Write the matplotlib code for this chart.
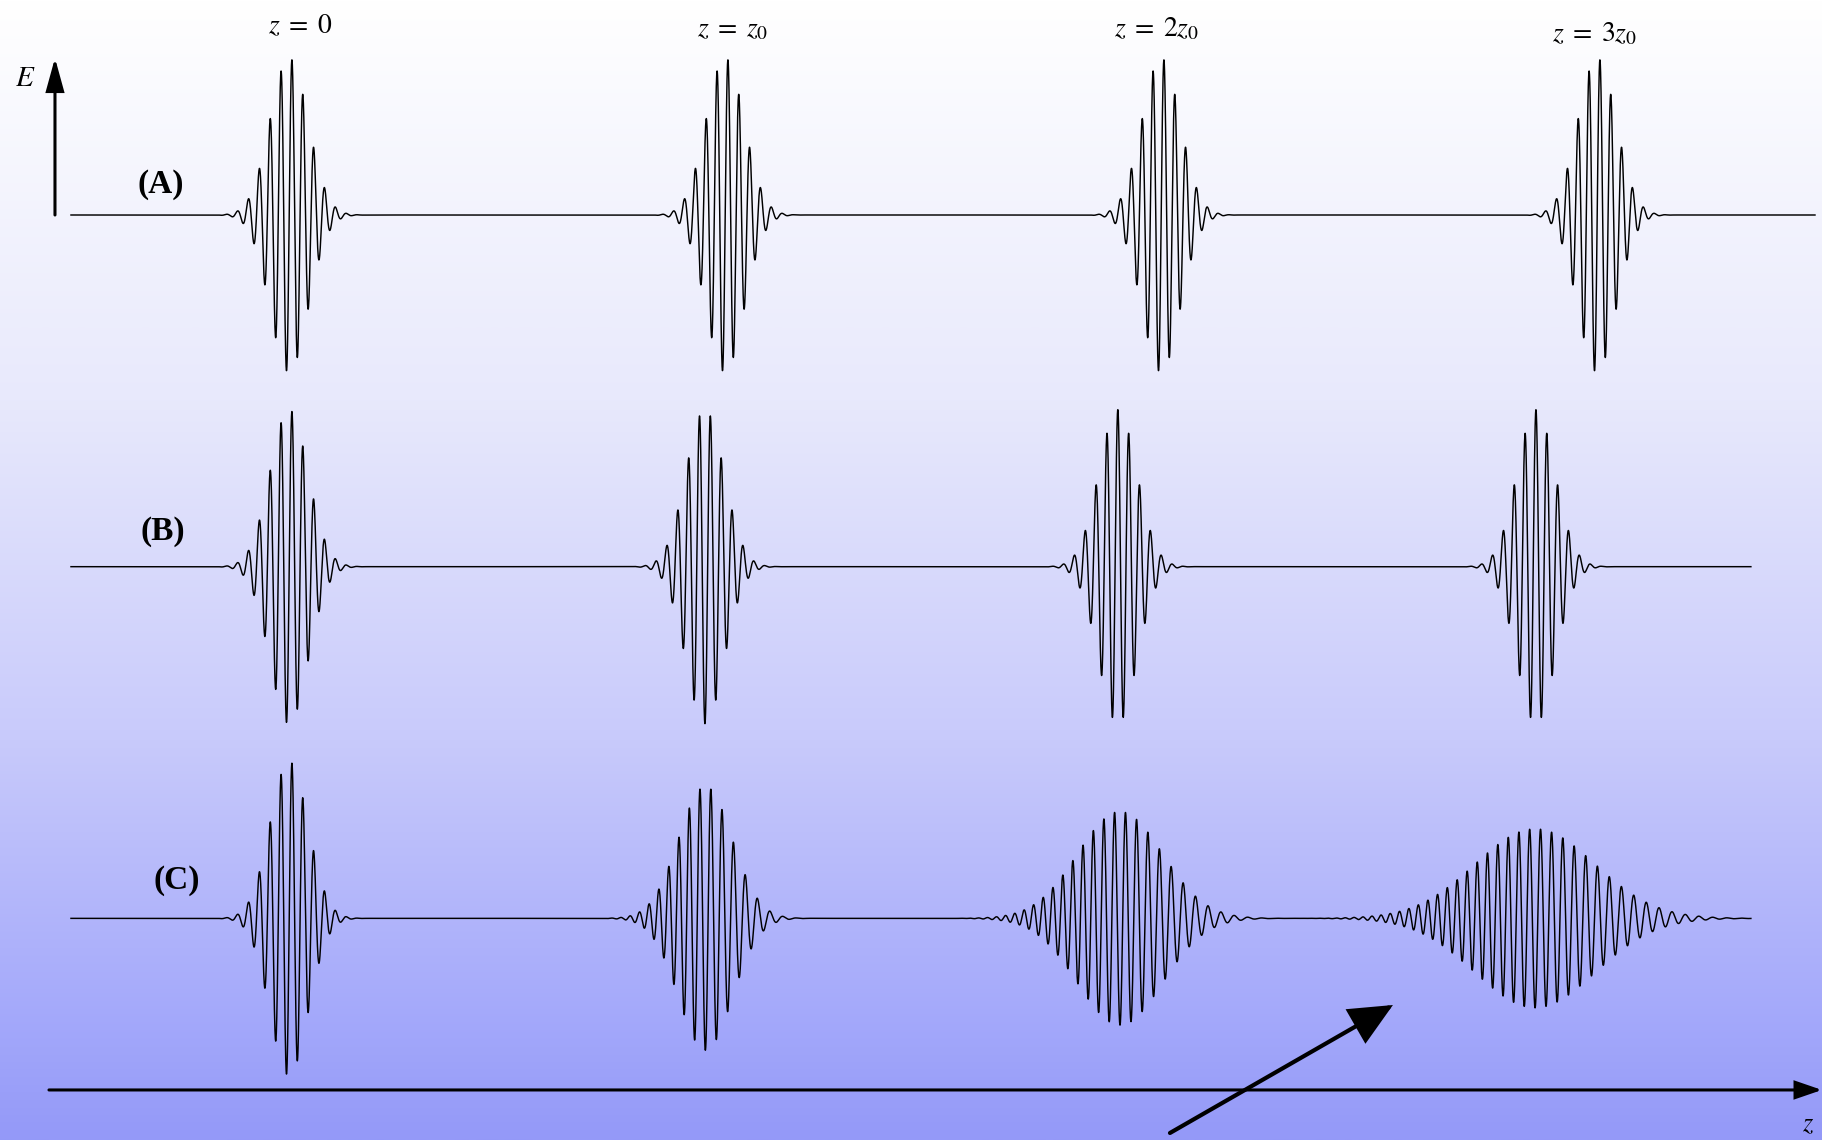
import matplotlib
matplotlib.use('Agg')
import numpy as np
import matplotlib.pyplot as plt
from matplotlib.patches import FancyArrowPatch
from matplotlib.colors import LinearSegmentedColormap

plt.rcParams['mathtext.fontset'] = 'stix'
plt.rcParams['font.family'] = ['Liberation Serif', 'DejaVu Serif']

# ------------------------------------------------------------
# Wave packets: positions in units of z0, amplitude 1 = E max
# ------------------------------------------------------------
ROW_NAMES   = ['(A)', '(B)', '(C)']
ROW_Y       = [0.0, -2.24, -4.48]          # baseline of each row
ROW_END     = [3.50, 3.353, 3.353]         # right end of each baseline
ROW_START   = -0.50
NAME_X      = [-0.2936, -0.289, -0.257]
NAME_Y      = [0.197, -2.013, -4.242]

Z_LABELS    = [r'$z\;=\;0$', r'$z\;=\;z_0$', r'$z\;=\;2z_0$', r'$z\;=\;3z_0$']
Z_LABEL_X   = [0.025, 1.018, 1.989, 2.995]
Z_LABEL_Y   = [1.159, 1.140, 1.140, 1.103]

# (A) no dispersion, (B) group delay, (C) group delay + spreading
CENTERS = [
    [0.0, 1.000, 2.000, 3.000],
    [0.0, 0.954, 1.901, 2.860],
    [0.0, 0.955, 1.906, 2.858],
]
AMPS = [
    [1.0, 1.0, 1.0, 1.0],
    [1.0, 1.0, 1.0, 1.0],
    [1.0, 0.84, 0.68, 0.57],
]
WIDTHS = [                                  # in multiples of SIGMA0
    [1.0, 1.0, 1.0, 1.0],
    [1.0, 1.0, 1.0, 1.0],
    [1.0, 1.41, 2.24, 3.16],
]
CHIRPS = [                                  # dk/dz, rad / z0^2
    [0.0, 0.0, 0.0, 0.0],
    [0.0, 0.0, 0.0, 0.0],
    [0.0, -247.0, -181.0, -137.0],
]
PHASES = [
    [-1.7, -1.7, -1.7, -1.7],
    [-1.7, np.pi, 0.0, 0.0],
    [-1.7, np.pi, np.pi, np.pi],
]
SIGMA0 = 0.0436     # envelope width, z0 units
K0     = 251.4      # carrier wavenumber, rad / z0

# background gradient (top -> bottom)
BG_STOPS  = [0.0, 0.35, 0.65, 0.92, 1.0]
BG_COLORS = ['#ffffff', '#e8e9fc', '#c8cafb', '#a0a5fa', '#9499f8']

XLIM = (-0.6628, 3.5161)
YLIM = (-5.8917, 1.3694)

fig = plt.figure(figsize=(18.22, 11.4), dpi=100)
ax = fig.add_axes([0, 0, 1, 1])
ax.set_xlim(*XLIM); ax.set_ylim(*YLIM)
ax.axis('off')

cmap = LinearSegmentedColormap.from_list('bg', list(zip(BG_STOPS, BG_COLORS)))
grad = np.linspace(0, 1, 512).reshape(-1, 1)
ax.imshow(grad, cmap=cmap, aspect='auto', extent=(XLIM[0], XLIM[1], YLIM[0], YLIM[1]),
          origin='upper', zorder=0, interpolation='bicubic')

# ------------------------------------------------------------
# Packets
# ------------------------------------------------------------
for r in range(3):
    z = np.linspace(ROW_START, ROW_END[r], 24000)
    E = np.zeros_like(z)
    for c, a, w, ch, ph in zip(CENTERS[r], AMPS[r], WIDTHS[r], CHIRPS[r], PHASES[r]):
        d = z - c
        s = SIGMA0 * w
        E += a * np.exp(-d**2 / (2 * s**2)) * np.cos(K0 * d + 0.5 * ch * d**2 + ph)
    ax.plot(z, ROW_Y[r] + E, color='black', lw=1.05, zorder=3)
    ax.text(NAME_X[r], NAME_Y[r], ROW_NAMES[r], fontsize=24, fontweight='bold',
            ha='center', va='center', zorder=4)

for lbl, x, y in zip(Z_LABELS, Z_LABEL_X, Z_LABEL_Y):
    ax.text(x, y, lbl, fontsize=20, ha='center', va='baseline', zorder=4)

# ------------------------------------------------------------
# Axes arrows
# ------------------------------------------------------------
def arrow(p0, p1, lw, hl, hw):
    ax.add_patch(FancyArrowPatch(p0, p1, arrowstyle=f'-|>,head_length={hl},head_width={hw}',
                                 mutation_scale=1, lw=lw, color='black',
                                 shrinkA=0, shrinkB=0, joinstyle='miter', zorder=5))

arrow((-0.5367, 0.0), (-0.5367, 1.0), 2.2, 20, 5.5)
ax.text(-0.6055, 0.866, r'$E$', fontsize=21, ha='center', va='center')

arrow((-0.5505, -5.573), (3.516, -5.573), 2.2, 16, 5.5)
ax.text(3.484, -5.80, r'$z$', fontsize=19, ha='center', va='center')

arrow((2.0206, -5.847), (2.532, -5.032), 3.0, 26, 12)

fig.savefig('out.png', dpi=100)
